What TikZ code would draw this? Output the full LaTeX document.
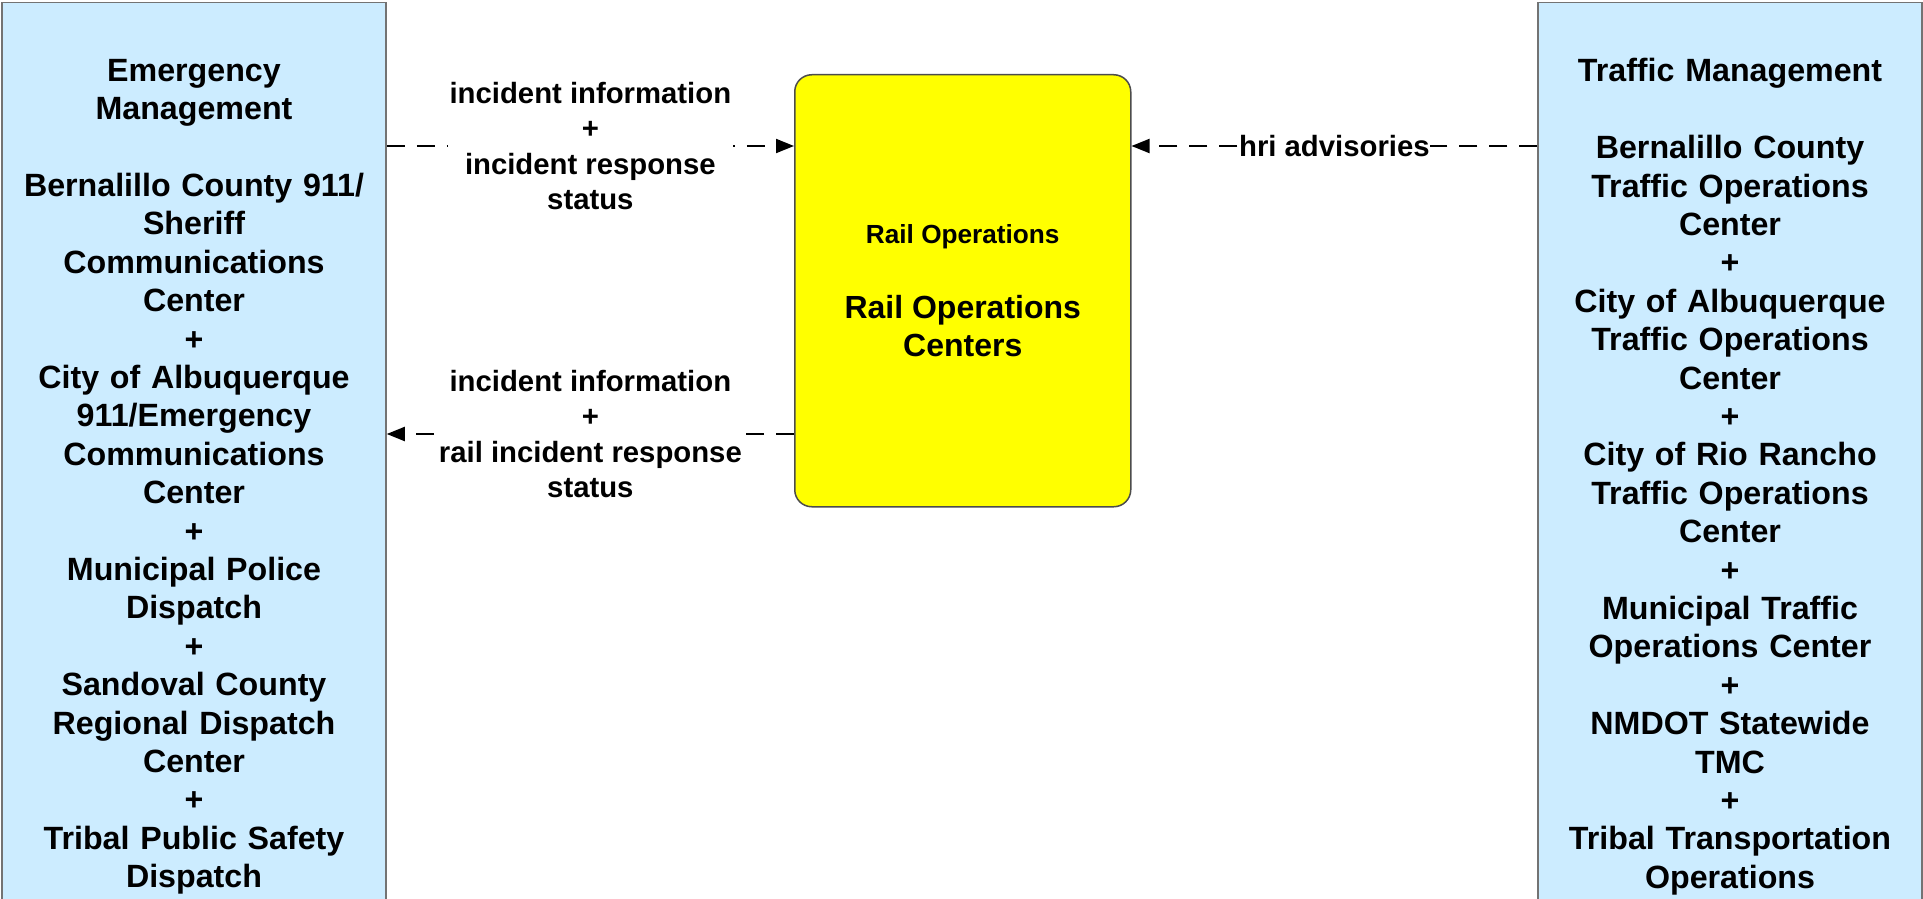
\documentclass[tikz,border=0pt]{standalone}
\usepackage{fontspec}
\setmainfont{Liberation Sans}
\usetikzlibrary{arrows.meta}
\definecolor{extblue}{RGB}{204,236,255}
\definecolor{rocyellow}{RGB}{255,255,0}
\begin{document}
\begin{tikzpicture}[x=1pt,y=-1pt,
  extbox/.style={draw=black!55, line width=1.5pt, fill=extblue, minimum width=384pt,
    minimum height=948pt, anchor=north, inner sep=0pt, text width=370pt, align=center,
    font=\fontsize{32.2}{38.4}\selectfont\bfseries},
  rocbox/.style={draw=black!70, line width=1.5pt, fill=rocyellow, rounded corners=17pt,
    minimum width=336pt, minimum height=432pt, anchor=north west, inner sep=0pt,
    align=center, font=\fontsize{32}{38}\selectfont\bfseries},
  flow/.style={line width=2pt, dash pattern=on 18pt off 12pt, -{Triangle[length=18pt,width=14pt]}},
  flowlabel/.style={fill=white, align=center, inner sep=2pt,
    font=\fontsize{29.3}{35.5}\selectfont\bfseries}
]
\clip (0,0) rectangle (1923,899);
\fill[white] (0,0) rectangle (1923,899);

\node[extbox] (em) at (194,2) {Emergency\\Management\\[38.4pt]Bernalillo County 911/\\Sheriff\\Communications\\Center\\+\\City of Albuquerque\\911/Emergency\\Communications\\Center\\+\\Municipal Police\\Dispatch\\+\\Sandoval County\\Regional Dispatch\\Center\\+\\Tribal Public Safety\\Dispatch};

\node[extbox] (tm) at (1730,2) {Traffic Management\\[38.4pt]Bernalillo County\\Traffic Operations\\Center\\+\\City of Albuquerque\\Traffic Operations\\Center\\+\\City of Rio Rancho\\Traffic Operations\\Center\\+\\Municipal Traffic\\Operations Center\\+\\NMDOT Statewide\\TMC\\+\\Tribal Transportation\\Operations};

\node[rocbox] (roc) at (794,74) {\fontsize{26.2}{31}\selectfont Rail Operations\\[37pt]Rail Operations\\Centers};

\coordinate (ya) at (0,146);
\coordinate (yb) at (0,434);

\draw[flow] (em.east |- ya) -- node[flowlabel] (l1) {incident information\\+\\incident response\\status} (roc.west |- ya);
\draw[flow] (roc.west |- yb) -- node[flowlabel] (l2) {incident information\\+\\rail incident response\\status} (em.east |- yb);
\draw[flow] (tm.west |- ya) -- node[flowlabel, inner sep=0.5pt] (l3) {hri advisories} (roc.east |- ya);
\end{tikzpicture}
\end{document}
